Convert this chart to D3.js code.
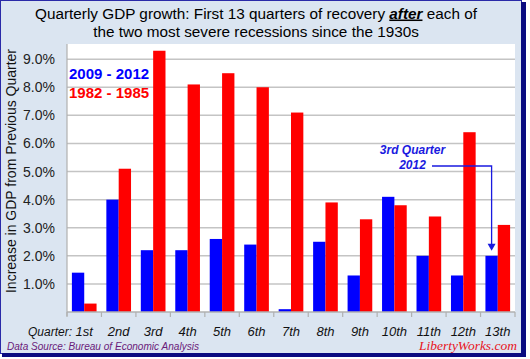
<!DOCTYPE html>
<html><head><meta charset="utf-8">
<script src="https://cdn.jsdelivr.net/npm/d3@7"></script>
<style>body{margin:0;background:#fff}svg{display:block;font-family:"Liberation Sans",Arial,sans-serif}</style>
</head><body><svg id="c" width="530" height="359"></svg>
<script>
const quarters = ["1st","2nd","3rd","4th","5th","6th","7th","8th","9th","10th","11th","12th","13th"];
const series = ["2009 - 2012","1982 - 1985"];
const recent = [1.4,4.0,2.2,2.2,2.6,2.4,0.1,2.5,1.3,4.1,2.0,1.3,2.0];
const earlier = [0.3,5.1,9.3,8.1,8.5,8.0,7.1,3.9,3.3,3.8,3.4,6.4,3.1];
const yTicks = [1,2,3,4,5,6,7,8,9];
const colors = ["#0000ff","#ff0000"];

const svg = d3.select("#c");
// frame
svg.append("rect").attr("x",0.5).attr("y",0.5).attr("width",521).attr("height",353)
  .attr("fill","#dbe5f1").attr("stroke","#2a2aa8").attr("stroke-width",1);
svg.append("rect").attr("x",521).attr("y",2).attr("width",5).attr("height",355).attr("fill","#0a0a80");
svg.append("rect").attr("x",2).attr("y",353).attr("width",524).attr("height",4).attr("fill","#0a0a80");

const L=67,R=515,T=44,B=312;
svg.append("rect").attr("x",L).attr("y",T).attr("width",R-L).attr("height",B-T).attr("fill","#fff");

const y = d3.scaleLinear().domain([0,9.54]).range([B,T]);
const x0 = d3.scaleBand().domain(quarters).range([L,R]).paddingInner(0.284).paddingOuter(0.142);
const x1 = d3.scaleBand().domain(series).range([0,x0.bandwidth()]);

// gridlines
svg.append("g").selectAll("line").data(yTicks).join("line")
  .attr("x1",L).attr("x2",R).attr("y1",d=>y(d)).attr("y2",d=>y(d))
  .attr("stroke","#c4c4c4").attr("stroke-width",1.5);

// y axis
const yAxis = svg.append("g").attr("transform",`translate(${L},0)`)
  .call(d3.axisLeft(y).tickValues(yTicks).tickFormat(d=>d.toFixed(1)+"%").tickSize(0).tickPadding(12));
yAxis.select(".domain").remove();
yAxis.selectAll("text").attr("font-size",14).attr("fill","#222").attr("font-family","Liberation Sans, Arial, sans-serif");
svg.append("line").attr("x1",L).attr("x2",L).attr("y1",T).attr("y2",B+4).attr("stroke","#b0b0b0").attr("stroke-width",1.2);

// bars
const data = quarters.map((q,i)=>({q, vals:[{s:series[0],v:recent[i]},{s:series[1],v:earlier[i]}]}));
const g = svg.append("g");
g.selectAll("g").data(data).join("g").attr("transform",d=>`translate(${x0(d.q)},0)`)
  .selectAll("rect").data(d=>d.vals).join("rect")
  .attr("x",d=>x1(d.s)).attr("width",x1.bandwidth())
  .attr("y",d=>y(d.v)).attr("height",d=>y(0)-y(d.v))
  .attr("fill",(d,i)=>colors[i]);

// x axis baseline & ticks
svg.append("line").attr("x1",L).attr("x2",R).attr("y1",B).attr("y2",B).attr("stroke","#b0b0b0").attr("stroke-width",1.5);
const step = x0.step();
const bounds = d3.range(quarters.length+1).map(i=>L+i*step);
svg.append("g").selectAll("line").data(bounds).join("line")
  .attr("x1",d=>d).attr("x2",d=>d).attr("y1",B).attr("y2",B+5).attr("stroke","#b0b0b0").attr("stroke-width",1.2);
svg.append("g").selectAll("text").data(quarters).join("text")
  .attr("x",d=>x0(d)+x0.bandwidth()/2).attr("y",335.5).attr("text-anchor","middle")
  .attr("font-size",13).attr("font-style","italic").attr("fill","#111").text(d=>d);
svg.append("text").attr("x",28).attr("y",335.5).attr("font-size",12).attr("font-style","italic").attr("fill","#111").text("Quarter:");

// y label
svg.append("text").attr("transform","translate(16,171) rotate(-90)").attr("text-anchor","middle")
  .attr("font-size",14).attr("fill","#111").text("Increase in GDP from Previous Quarter");

// title
const t1 = svg.append("text").attr("x",256).attr("y",18.5).attr("text-anchor","middle").attr("font-size",15.3).attr("fill","#000");
t1.append("tspan").text("Quarterly GDP growth: First 13 quarters of recovery ");
t1.append("tspan").attr("font-weight","bold").attr("font-style","italic").attr("text-decoration","underline").text("after");
t1.append("tspan").text(" each of");
svg.append("text").attr("x",256).attr("y",36.7).attr("text-anchor","middle").attr("font-size",15.3).attr("fill","#000")
  .text("the two most severe recessions since the 1930s");

// legend
series.forEach((s,i)=>{
  svg.append("text").attr("x",69).attr("y",79+i*19).attr("font-size",15).attr("font-weight","bold")
    .attr("fill",colors[i]).text(s);
});

// annotation
const ac = "#1a1ae0";
svg.append("text").attr("x",412.5).attr("y",154).attr("text-anchor","middle").attr("font-size",12)
  .attr("font-weight","bold").attr("font-style","italic").attr("fill",ac).text("3rd Quarter");
svg.append("text").attr("x",412.5).attr("y",169).attr("text-anchor","middle").attr("font-size",12)
  .attr("font-weight","bold").attr("font-style","italic").attr("fill",ac).text("2012");
const ax = x0("13th")+x1(series[0])+x1.bandwidth()/2;
const tipY = y(recent[12])-5;
svg.append("path").attr("d",`M432,166 H${ax} V${tipY-5}`).attr("fill","none").attr("stroke",ac).attr("stroke-width",1.3);
svg.append("path").attr("d",`M${ax-4},${tipY-7} L${ax},${tipY} L${ax+4},${tipY-7} Z`).attr("fill",ac);

// sources
svg.append("text").attr("x",7).attr("y",349.5).attr("font-size",11.5).attr("font-style","italic").attr("fill","#6a1a7a")
  .attr("textLength",192).attr("lengthAdjust","spacingAndGlyphs")
  .text("Data Source: Bureau of Economic Analysis");
svg.append("text").attr("x",517).attr("y",350).attr("text-anchor","end").attr("font-size",13.5).attr("font-style","italic")
  .attr("font-family","Liberation Serif, serif").attr("fill","#e8141c").text("LibertyWorks.com");
</script></body></html>
